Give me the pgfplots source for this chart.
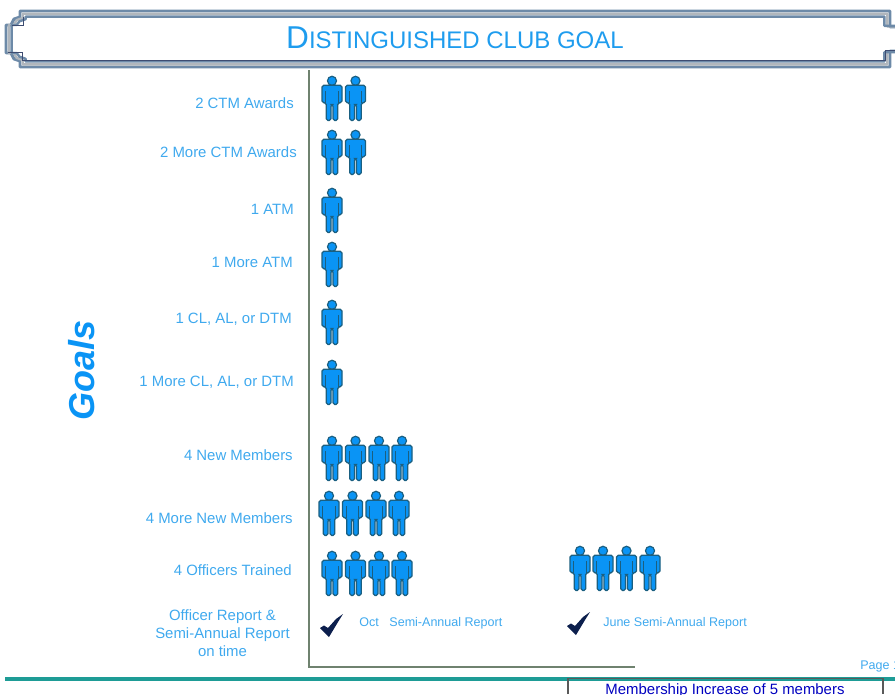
\documentclass[border=0pt]{standalone}
\usepackage{pgfplots}
\pgfplotsset{compat=1.18}
\usepackage{fontspec}
\setmainfont{Liberation Sans}
\definecolor{blu}{HTML}{1E9CEE}
\definecolor{lab}{HTML}{3FA9EE}
\definecolor{fig}{HTML}{0A94F5}
\definecolor{figd}{HTML}{1B5F80}
\definecolor{chk}{HTML}{0C1F4D}
\definecolor{axc}{HTML}{6F826F}
\definecolor{teal2}{HTML}{1E9C96}
\definecolor{fr}{HTML}{6D8AA8}
\definecolor{frg}{HTML}{B0B6BC}
\pgfdeclareplotmark{person}{%
  \pgfsetxvec{\pgfpoint{0.75pt}{0pt}}\pgfsetyvec{\pgfpoint{0pt}{0.75pt}}%
  \pgfsetlinewidth{0.9pt}\pgfsetstrokecolor{figd}\pgfsetfillcolor{fig}%
  \pgfpathcircle{\pgfpointxy{0}{18.2}}{3.4pt}\pgfusepath{fill,stroke}%
  \pgfsetcornersarced{\pgfpoint{1.3pt}{1.3pt}}%
  \pgfpathmoveto{\pgfpointxy{0}{13.7}}%
  \pgfpathlineto{\pgfpointxy{10}{13.7}}%
  \pgfpathlineto{\pgfpointxy{10}{-3.7}}%
  \pgfpathlineto{\pgfpointxy{5.8}{-3.7}}%
  \pgfpathlineto{\pgfpointxy{5.8}{-21.5}}%
  \pgfpathlineto{\pgfpointxy{1}{-21.5}}%
  \pgfpathlineto{\pgfpointxy{1}{-5.5}}%
  \pgfpathlineto{\pgfpointxy{-1}{-5.5}}%
  \pgfpathlineto{\pgfpointxy{-1}{-21.5}}%
  \pgfpathlineto{\pgfpointxy{-5.8}{-21.5}}%
  \pgfpathlineto{\pgfpointxy{-5.8}{-3.7}}%
  \pgfpathlineto{\pgfpointxy{-10}{-3.7}}%
  \pgfpathlineto{\pgfpointxy{-10}{13.7}}%
  \pgfpathclose\pgfusepath{fill,stroke}%
  \pgfsetcornersarced{\pgfpointorigin}%
  \pgfpathmoveto{\pgfpointxy{6.3}{8}}\pgfpathlineto{\pgfpointxy{6.3}{-3.5}}%
  \pgfpathmoveto{\pgfpointxy{-6.3}{8}}\pgfpathlineto{\pgfpointxy{-6.3}{-3.5}}%
  \pgfusepath{stroke}%
}
\pgfdeclareplotmark{tick}{%
  \pgfsetxvec{\pgfpoint{0.75pt}{0pt}}\pgfsetyvec{\pgfpoint{0pt}{0.75pt}}%
  \pgfsetfillcolor{chk}%
  \pgfpathmoveto{\pgfpointxy{-12}{-3}}%
  \pgfpathlineto{\pgfpointxy{-8}{-0.5}}%
  \pgfpathlineto{\pgfpointxy{-4}{-3}}%
  \pgfpathlineto{\pgfpointxy{4}{6}}%
  \pgfpathlineto{\pgfpointxy{11}{11}}%
  \pgfpathlineto{\pgfpointxy{6}{3}}%
  \pgfpathlineto{\pgfpointxy{-3}{-12}}%
  \pgfpathlineto{\pgfpointxy{-5}{-10}}%
  \pgfpathclose\pgfusepath{fill}%
}
\tikzset{lbl/.style={inner sep=0pt,text=lab,font=\fontsize{11.2}{13.6}\selectfont},
  sml/.style={inner sep=0pt,text=lab,font=\fontsize{9.4}{11}\selectfont}}
\begin{document}
\begin{tikzpicture}[x=0.75pt,y=0.75pt]
\useasboundingbox (0,0) rectangle (895,694);
\begin{scope}
\clip (0,0) rectangle (895,694);
\begin{axis}[at={(0,0)},anchor=south west,scale only axis,width=671.25pt,height=520.5pt,
  xmin=0,xmax=895,ymin=0,ymax=694,y dir=reverse,hide axis,clip=false]
% title frame
\foreach \c/\w/\o in {fr/2.2/0,frg/1.8/2.7,fr/1.8/5.6}{
  \edef\tmp{\noexpand\draw[color=\c,line width=\w pt,line join=round]
   (axis cs:895,{27-\o*0.2}) -- (axis cs:{890-\o},{27-\o*0.2}) -- (axis cs:{890-\o},{11+\o}) -- (axis cs:{20+\o},{11+\o}) -- (axis cs:{20+\o},{17+\o*0.4}) -- (axis cs:{14+\o},{19+\o*0.4}) -- (axis cs:{11+\o},{25}) -- (axis cs:{6+\o},25) -- (axis cs:{6+\o},53) -- (axis cs:{11+\o},53) -- (axis cs:{14+\o},{59-\o*0.4}) -- (axis cs:{20+\o},{61-\o*0.4}) -- (axis cs:{20+\o},{67-\o}) -- (axis cs:{890-\o},{67-\o}) -- (axis cs:{890-\o},{51+\o*0.2}) -- (axis cs:895,{51+\o*0.2});}
  \tmp
}
\draw[chk!80,line width=0.5pt] (axis cs:23,17) -- (axis cs:23,25) -- (axis cs:12,25);
\draw[chk!80,line width=0.6pt] (axis cs:8,52) -- (axis cs:22,52) -- (axis cs:22,60) -- (axis cs:885,60) -- (axis cs:885,50) -- (axis cs:895,50);
\node[inner sep=0pt,anchor=center,text=blu] at (axis cs:455,37.5) {\fontsize{23.7}{26}\selectfont D\fontsize{18}{20}\selectfont ISTINGUISHED CLUB GOAL};
% axes
\addplot[axc,line width=0.8pt,forget plot] coordinates {(309,70) (309,667) (635,667)};
\addplot[teal2,line width=3pt,forget plot] coordinates {(5,679) (895,679)};
\addplot[color=gray!70!black,line width=1.2pt,forget plot] coordinates {(568,694) (568,678.5) (883,678.5) (883,694)};
% pictograms
\addplot[only marks,mark=person,forget plot] coordinates {
 (332,99)(355.5,99)
 (332,153)(355.5,153)
 (332,211)
 (332,265)
 (332,323)
 (332,383)
 (332,459)(355.5,459)(379,459)(402,459)
 (329,514)(352.5,514)(376,514)(399,514)
 (332,574)(355.5,574)(379,574)(402,574)
 (580,569)(603,569)(626.5,569)(650,569)};
\addplot[only marks,mark=tick,forget plot] coordinates {(332,625)(579,623)};
% labels
\node[lbl,anchor=east] at (axis cs:294,103) {2 CTM Awards};
\node[lbl,anchor=east] at (axis cs:297,152.5) {2 More CTM Awards};
\node[lbl,anchor=east] at (axis cs:294,209.5) {1 ATM};
\node[lbl,anchor=east] at (axis cs:293,262) {1 More ATM};
\node[lbl,anchor=east] at (axis cs:292,319.5) {1 CL, AL, or DTM};
\node[lbl,anchor=east] at (axis cs:294,382.5) {1 More CL, AL, or DTM};
\node[lbl,anchor=east] at (axis cs:293,455.5) {4 New Members};
\node[lbl,anchor=east] at (axis cs:293,518.5) {4 More New Members};
\node[lbl,anchor=east] at (axis cs:292,570.5) {4 Officers Trained};
\node[lbl,align=center] at (axis cs:222.5,633) {Officer Report \&\\Semi-Annual Report\\on time};
\node[sml,anchor=west] at (axis cs:359,623.5) {Oct\hspace{8pt}Semi-Annual Report};
\node[sml,anchor=west] at (axis cs:603,623.5) {June Semi-Annual Report};
\node[sml,anchor=west] at (axis cs:860,666) {Page 1};
\node[inner sep=0pt,rotate=90,text=fig,font=\bfseries\itshape\fontsize{27}{30}\selectfont] at (axis cs:82,370) {Goals};
\node[inner sep=0pt,anchor=center,text=blue!75!black,font=\fontsize{11.2}{14}\selectfont] at (axis cs:725,691) {Membership Increase of 5 members};
\end{axis}
\end{scope}
\end{tikzpicture}
\end{document}
